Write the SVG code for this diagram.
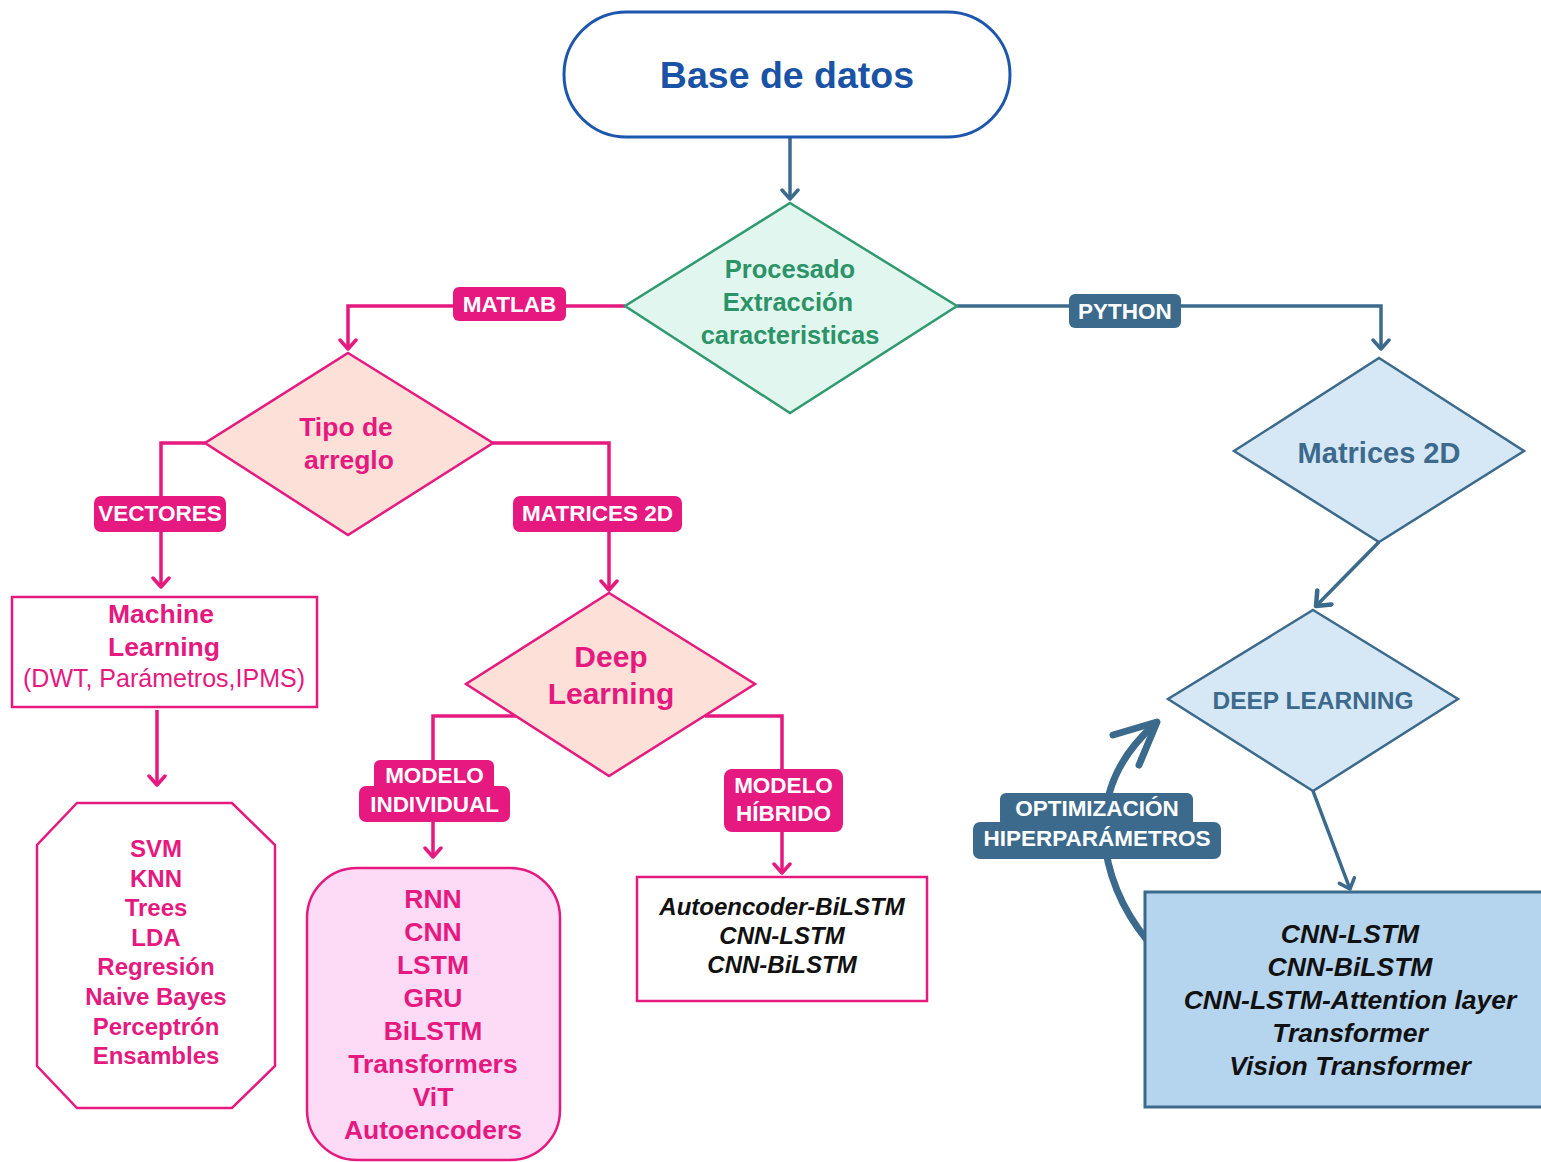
<svg xmlns="http://www.w3.org/2000/svg" width="1541" height="1162" viewBox="0 0 1541 1162">
<style>
text{font-family:"Liberation Sans",Arial,sans-serif;font-weight:bold;text-anchor:middle}
.pk{fill:#e5197f}
.bl{fill:#3c6a8c}
.lblp{fill:#e5197f}
.lblb{fill:#3c6a8c}
.lt{fill:#ffffff;font-size:22.5px}
.pline{fill:none;stroke:#e5197f;stroke-width:3.5}
.bline{fill:none;stroke:#3c6a8c;stroke-width:3.5}
.it{fill:#111;font-style:italic}
.rg{font-weight:normal}
</style>
<defs>
<marker id="ap" viewBox="0 0 20 20" refX="17" refY="10" markerWidth="20" markerHeight="20" markerUnits="userSpaceOnUse" orient="auto">
<path d="M8,2 L17,10 L8,18" fill="none" stroke="#e5197f" stroke-width="3.5" stroke-linecap="round" stroke-linejoin="round"/>
</marker>
<marker id="ab" viewBox="0 0 20 20" refX="17" refY="10" markerWidth="20" markerHeight="20" markerUnits="userSpaceOnUse" orient="auto">
<path d="M8,2 L17,10 L8,18" fill="none" stroke="#3c6a8c" stroke-width="3.5" stroke-linecap="round" stroke-linejoin="round"/>
</marker>
<marker id="ab2" viewBox="0 0 24 24" refX="21" refY="12" markerWidth="24" markerHeight="24" markerUnits="userSpaceOnUse" orient="auto">
<path d="M9,2 L21,12 L9,22" fill="none" stroke="#3c6a8c" stroke-width="4.5" stroke-linecap="round" stroke-linejoin="round"/>
</marker>
</defs>
<rect width="1541" height="1162" fill="#ffffff"/>

<g id="connectors">
<path class="bline" d="M790,137 L790,199" marker-end="url(#ab)"/>
<path class="pline" d="M625,306 L348,306 L348,349" marker-end="url(#ap)"/>
<path class="bline" d="M957,306 L1381,306 L1381,349" marker-end="url(#ab)"/>
<path class="pline" d="M205,443 L161,443 L161,587" marker-end="url(#ap)"/>
<path class="pline" d="M493,443 L609,443 L609,590" marker-end="url(#ap)"/>
<path class="pline" d="M157,710 L157,785" marker-end="url(#ap)"/>
<path class="pline" d="M516,716 L433,716 L433,857" marker-end="url(#ap)"/>
<path class="pline" d="M705,716 L782,716 L782,873" marker-end="url(#ap)"/>
<path class="bline" d="M1379,542 L1316,606" stroke-width="4.5" marker-end="url(#ab2)"/>
<path class="bline" d="M1313,791 L1350,889" marker-end="url(#ab)"/>
<path d="M1147,940 C1098,880 1080,790 1155,724" fill="none" stroke="#3c6a8c" stroke-width="7"/>
<path d="M1113,735 L1157,722 L1139,765" fill="none" stroke="#3c6a8c" stroke-width="7" stroke-linecap="round" stroke-linejoin="round"/>
<g id="lbl-matlab"><rect class="lblp" x="453" y="287" width="113" height="34" rx="6"/><text class="lt" x="509.5" y="312">MATLAB</text></g>
<g id="lbl-python"><rect class="lblb" x="1069" y="294" width="112" height="34" rx="6"/><text class="lt" x="1125" y="319">PYTHON</text></g>
<g id="lbl-vectores"><rect class="lblp" x="94" y="496" width="132" height="36" rx="7"/><text class="lt" x="160" y="521">VECTORES</text></g>
<g id="lbl-matrices"><rect class="lblp" x="513" y="496" width="169" height="36" rx="7"/><text class="lt" x="597.5" y="521">MATRICES 2D</text></g>
<g id="lbl-individual"><rect class="lblp" x="374" y="760" width="120" height="32" rx="6"/><rect class="lblp" x="359" y="786" width="151" height="36" rx="7"/><text class="lt" x="434.5" y="783">MODELO<tspan x="434.5" dy="29">INDIVIDUAL</tspan></text></g>
<g id="lbl-hibrido"><rect class="lblp" x="724" y="769" width="119" height="63" rx="8"/><text class="lt" x="783.5" y="793">MODELO<tspan x="783.5" dy="28">HÍBRIDO</tspan></text></g>
<g id="lbl-optim"><rect class="lblb" x="1000" y="793" width="193" height="34" rx="6"/><rect class="lblb" x="973" y="822" width="248" height="37" rx="7"/><text class="lt" x="1097" y="816">OPTIMIZACIÓN<tspan x="1097" dy="30">HIPERPARÁMETROS</tspan></text></g>
</g>

<g id="base">
<rect x="564" y="12" width="446" height="125" rx="62.5" fill="#fff" stroke="#1d56ad" stroke-width="3"/>
<text x="787" y="88" font-size="37.5" fill="#1a53a5">Base de datos</text>
</g>

<g id="procesado">
<polygon points="790,203 957,306 790,413 625,306" fill="#e2f6f0" stroke="#2e9a6e" stroke-width="2.5"/>
<text x="790" y="278" font-size="25.5" fill="#2a9467">Procesado<tspan x="788" dy="33">Extracción</tspan><tspan x="790" dy="33">caracteristicas</tspan></text>
</g>

<g id="tipo">
<polygon points="348,353 493,443 348,535 205,443" fill="#fde1d8" stroke="#e5197f" stroke-width="2.5"/>
<text class="pk" x="346" y="436" font-size="26.5">Tipo de<tspan x="349" dy="33">arreglo</tspan></text>
</g>

<g id="ml">
<rect x="12" y="597" width="305" height="110" fill="#fff" stroke="#e5197f" stroke-width="2.5"/>
<text class="pk" x="161" y="623" font-size="26.5">Machine<tspan x="164" dy="33">Learning</tspan><tspan class="rg" x="164" dy="31" font-size="25">(DWT, Parámetros,IPMS)</tspan></text>
</g>

<g id="ml-list">
<polygon points="77,803 232,803 275,845 275,1066 232,1108 77,1108 37,1066 37,845" fill="#fff" stroke="#e5197f" stroke-width="2.5"/>
<text class="pk" x="156" y="857" font-size="24">SVM<tspan x="156" dy="29.6">KNN</tspan><tspan x="156" dy="29.6">Trees</tspan><tspan x="156" dy="29.6">LDA</tspan><tspan x="156" dy="29.6">Regresión</tspan><tspan x="156" dy="29.6">Naive Bayes</tspan><tspan x="156" dy="29.6">Perceptrón</tspan><tspan x="156" dy="29.6">Ensambles</tspan></text>
</g>

<g id="deep">
<polygon points="609,593 755,684 609,776 466,684" fill="#fde1d8" stroke="#e5197f" stroke-width="2.5"/>
<text class="pk" x="611" y="667" font-size="30">Deep<tspan x="611" dy="37">Learning</tspan></text>
</g>

<g id="individual">
<rect x="307" y="868" width="253" height="292" rx="50" fill="#fddaf6" stroke="#e5197f" stroke-width="2.5"/>
<text class="pk" x="433" y="908" font-size="26.5">RNN<tspan x="433" dy="33">CNN</tspan><tspan x="433" dy="33">LSTM</tspan><tspan x="433" dy="33">GRU</tspan><tspan x="433" dy="33">BiLSTM</tspan><tspan x="433" dy="33">Transformers</tspan><tspan x="433" dy="33">ViT</tspan><tspan x="433" dy="33">Autoencoders</tspan></text>
</g>

<g id="hibrido">
<rect x="637" y="877" width="290" height="124" fill="#fff" stroke="#e5197f" stroke-width="2.5"/>
<text class="it" x="782" y="915" font-size="24">Autoencoder-BiLSTM<tspan x="782" dy="29">CNN-LSTM</tspan><tspan x="782" dy="29">CNN-BiLSTM</tspan></text>
</g>

<g id="matrices2d">
<polygon points="1379,358 1524,451 1379,542 1234,451" fill="#d6e8f6" stroke="#3c6a8c" stroke-width="2.5"/>
<text class="bl" x="1379" y="463" font-size="29">Matrices 2D</text>
</g>

<g id="deeplearning">
<polygon points="1313,610 1458,699 1313,791 1168,699" fill="#d6e8f6" stroke="#3c6a8c" stroke-width="2.5"/>
<text class="bl" x="1313" y="709" font-size="24.5">DEEP LEARNING</text>
</g>

<g id="dl-models">
<rect x="1145" y="892" width="400" height="215" fill="#b5d4ee" stroke="#3c6a8c" stroke-width="3"/>
<text class="it" x="1350" y="943" font-size="26.5">CNN-LSTM<tspan x="1350" dy="33">CNN-BiLSTM</tspan><tspan x="1350" dy="33">CNN-LSTM-Attention layer</tspan><tspan x="1350" dy="33">Transformer</tspan><tspan x="1350" dy="33">Vision Transformer</tspan></text>
</g>
</svg>
